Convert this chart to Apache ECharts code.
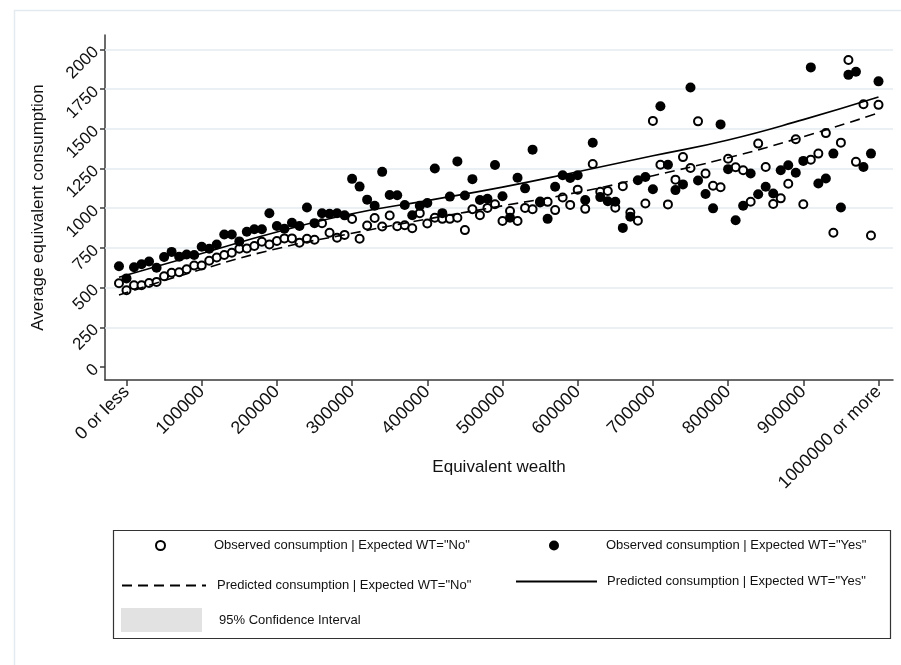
<!DOCTYPE html>
<html>
<head>
<meta charset="utf-8">
<script src="https://cdn.jsdelivr.net/npm/echarts@6/dist/echarts.min.js"></script>
<style>
  html, body { margin: 0; padding: 0; background: #fff; }
  #chart { width: 901px; height: 665px; }
</style>
</head>
<body>
<div id="chart"></div>
<script>
// Wealth bins (each point is the mean consumption of one 10000-wide wealth bin)
const wealth = [
  -10000, 0, 10000, 20000, 30000, 40000, 50000, 60000, 70000, 80000, 90000,
  100000, 110000, 120000, 130000, 140000, 150000, 160000, 170000, 180000, 190000,
  200000, 210000, 220000, 230000, 240000, 250000, 260000, 270000, 280000, 290000,
  300000, 310000, 320000, 330000, 340000, 350000, 360000, 370000, 380000, 390000,
  400000, 410000, 420000, 430000, 440000, 450000, 460000, 470000, 480000, 490000,
  500000, 510000, 520000, 530000, 540000, 550000, 560000, 570000, 580000, 590000,
  600000, 610000, 620000, 630000, 640000, 650000, 660000, 670000, 680000, 690000,
  700000, 710000, 720000, 730000, 740000, 750000, 760000, 770000, 780000, 790000,
  800000, 810000, 820000, 830000, 840000, 850000, 860000, 870000, 880000, 890000,
  900000, 910000, 920000, 930000, 940000, 950000, 960000, 970000, 980000, 990000,
  1000000
];

// Observed mean consumption, expected WT = "No"
const observedNo = [
  527, 483, 515, 515, 529, 536, 572, 593, 597, 616, 639,
  639, 669, 690, 705, 719, 745, 747, 762, 789, 772,
  793, 810, 810, 783, 808, 801, 905, 845, 814, 832,
  932, 808, 891, 938, 885, 954, 887, 893, 874, 969,
  904, 940, 933, 933, 940, 862, 994, 956, 1002, 1025,
  919, 983, 919, 1002, 994, 1042, 1040, 988, 1068, 1021,
  1117, 996, 1278, 1104, 1108, 1003, 1139, 973, 921, 1030,
  1550, 1274, 1024, 1180, 1322, 1253, 1547, 1218, 1141, 1132,
  1312, 1258, 1239, 1041, 1407, 1260, 1026, 1062, 1154, 1434,
  1025, 1306, 1344, 1473, 846, 1413, 1933, 1292, 1655, 828,
  1651
];

// Observed mean consumption, expected WT = "Yes"
const observedYes = [
  635, 558, 628, 647, 664, 625, 693, 725, 694, 709, 705,
  757, 745, 772, 835, 835, 791, 852, 867, 867, 968,
  888, 871, 909, 888, 1005, 906, 968, 965, 968, 955,
  1185, 1136, 1054, 1015, 1229, 1083, 1082, 1020, 956, 1015,
  1033, 1250, 969, 1073, 1295, 1080, 1183, 1052, 1060, 1272,
  1075, 940, 1192, 1125, 1369, 1036, 933, 1135, 1208, 1190,
  1208, 1052, 1412, 1070, 1044, 1041, 876, 947, 1176, 1197,
  1119, 1642, 1274, 1114, 1150, 1760, 1175, 1089, 999, 1528,
  1246, 924, 1015, 1219, 1088, 1135, 1093, 1239, 1271, 1223,
  1298, 1887, 1156, 1187, 1344, 1005, 1840, 1860, 1260, 1344,
  1799
];

// Fitted (predicted) consumption curves
const fitWealth    = [-10000, 100000, 200000, 300000, 400000, 500000, 600000, 700000, 800000, 900000, 1000000];
const predictedNo  = [453, 615, 745, 842, 932, 1015, 1100, 1205, 1318, 1450, 1600];
const predictedYes = [565, 715, 850, 965, 1048, 1133, 1230, 1330, 1430, 1558, 1700];

// Axis ticks and horizontal grid lines
const yTicks = [0, 250, 500, 750, 1000, 1250, 1500, 1750, 2000];
const yGridLines = [250, 500, 750, 1000, 1250, 1500, 1750, 2000];
const xTicks = [0, 100000, 200000, 300000, 400000, 500000, 600000, 700000, 800000, 900000, 1000000];
const xTickLabels = ['0 or less', '100000', '200000', '300000', '400000', '500000',
                     '600000', '700000', '800000', '900000', '1000000 or more'];

const NAME_OBS_NO  = 'Observed consumption | Expected WT="No"';
const NAME_OBS_YES = 'Observed consumption | Expected WT="Yes"';
const NAME_PRE_NO  = 'Predicted consumption | Expected WT="No"';
const NAME_PRE_YES = 'Predicted consumption | Expected WT="Yes"';
const NAME_CI      = '95% Confidence Interval';

const FONT = '"Liberation Sans", Arial, Helvetica, sans-serif';
const AXIS_COLOR = '#3a3a3a';
const GRID_COLOR = '#e3ebf0';

const chart = echarts.init(document.getElementById('chart'), null, { renderer: 'canvas' });

// One legend component per key entry, so each can sit in its own cell of the key box
function legendFor(name, left, top, w, h, textPad, extra) {
  return Object.assign({
    data: [name],
    left: left, top: top,
    itemWidth: w, itemHeight: h,
    itemGap: 0,
    padding: 0,
    selectedMode: false,
    textStyle: { fontFamily: FONT, fontSize: 13, color: '#111', padding: [0, 0, 0, textPad] }
  }, extra || {});
}

const option = {
  animation: false,
  backgroundColor: '#fff',
  textStyle: { fontFamily: FONT },
  grid: { left: 105, right: 8, top: 35, bottom: 285, containLabel: false },
  xAxis: {
    type: 'value',
    min: -28590,
    max: 1019280,
    name: 'Equivalent wealth',
    nameLocation: 'middle',
    nameGap: 79,
    nameMoveOverlap: false,
    nameTextStyle: { fontFamily: FONT, fontSize: 17, color: '#111' },
    axisLine: { show: true, onZero: false, lineStyle: { color: AXIS_COLOR, width: 1.5 } },
    axisTick: { show: true, customValues: xTicks, length: 6, lineStyle: { color: AXIS_COLOR, width: 1.5 } },
    axisLabel: {
      customValues: xTicks,
      rotate: 45,
      margin: 9,
      fontSize: 18,
      color: '#111',
      fontFamily: FONT,
      formatter: function (v) {
        const i = xTicks.indexOf(v);
        return i >= 0 ? xTickLabels[i] : '';
      }
    },
    splitLine: { show: false }
  },
  yAxis: {
    type: 'value',
    min: -82,
    max: 2091,
    name: 'Average equivalent consumption',
    nameLocation: 'middle',
    nameRotate: 90,
    nameGap: 58,
    nameMoveOverlap: false,
    nameTextStyle: { fontFamily: FONT, fontSize: 17, color: '#111' },
    axisLine: { show: true, onZero: false, lineStyle: { color: AXIS_COLOR, width: 1.5 } },
    axisTick: { show: true, customValues: yTicks, length: 5, lineStyle: { color: AXIS_COLOR, width: 1.5 } },
    axisLabel: {
      customValues: yTicks,
      rotate: 45,
      margin: 9,
      fontSize: 17,
      color: '#111',
      fontFamily: FONT,
      formatter: function (v) { return String(v); }
    },
    splitLine: { show: false }
  },
  legend: [
    legendFor(NAME_OBS_NO, 155, 539, 9, 9, 44),
    legendFor(NAME_PRE_NO, 121, 579, 84, 14, 6, { itemStyle: { opacity: 0 } }),
    legendFor(NAME_CI, 121, 608, 81, 24, 12, { icon: 'rect' }),
    legendFor(NAME_OBS_YES, 549, 539, 10, 10, 42),
    legendFor(NAME_PRE_YES, 515, 575, 81, 14, 5, { itemStyle: { opacity: 0 } })
  ],
  graphic: [
    {
      type: 'rect',
      silent: true,
      shape: { x: 14.5, y: 10.5, width: 900, height: 660 },
      style: { fill: 'none', stroke: GRID_COLOR, lineWidth: 1.5 }
    },
    {
      type: 'rect',
      silent: true,
      shape: { x: 113.5, y: 530.5, width: 777, height: 108 },
      style: { fill: 'none', stroke: '#333', lineWidth: 1.2 }
    }
  ],
  series: [
    {
      name: NAME_CI,
      type: 'line',
      symbol: 'none',
      z: 1,
      itemStyle: { color: '#e2e2e2' },
      lineStyle: { color: '#e2e2e2' },
      data: [],
      // horizontal grid lines at the labelled values above zero, kept beneath the markers
      markLine: {
        silent: true,
        z: 1,
        zlevel: 0,
        symbol: 'none',
        label: { show: false },
        lineStyle: { color: GRID_COLOR, width: 1.5, type: 'solid' },
        emphasis: { disabled: true },
        data: yGridLines.map(v => ({ yAxis: v }))
      }
    },
    {
      name: NAME_OBS_NO,
      type: 'scatter',
      symbol: 'circle',
      symbolSize: 8,
      z: 6,
      itemStyle: { color: '#fff', borderColor: '#000', borderWidth: 2, opacity: 1 },
      data: wealth.map((w, i) => [w, observedNo[i]])
    },
    {
      name: NAME_OBS_YES,
      type: 'scatter',
      symbol: 'circle',
      symbolSize: 10,
      z: 6,
      itemStyle: { color: '#000', opacity: 1 },
      data: wealth.map((w, i) => [w, observedYes[i]])
    },
    {
      name: NAME_PRE_NO,
      type: 'line',
      smooth: true,
      symbol: 'none',
      z: 7,
      lineStyle: { color: '#000', width: 1.6, type: [10, 6] },
      itemStyle: { color: '#000' },
      data: fitWealth.map((w, i) => [w, predictedNo[i]])
    },
    {
      name: NAME_PRE_YES,
      type: 'line',
      smooth: true,
      symbol: 'none',
      z: 7,
      lineStyle: { color: '#000', width: 1.6 },
      itemStyle: { color: '#000' },
      data: fitWealth.map((w, i) => [w, predictedYes[i]])
    }
  ]
};

chart.setOption(option);
</script>
</body>
</html>
